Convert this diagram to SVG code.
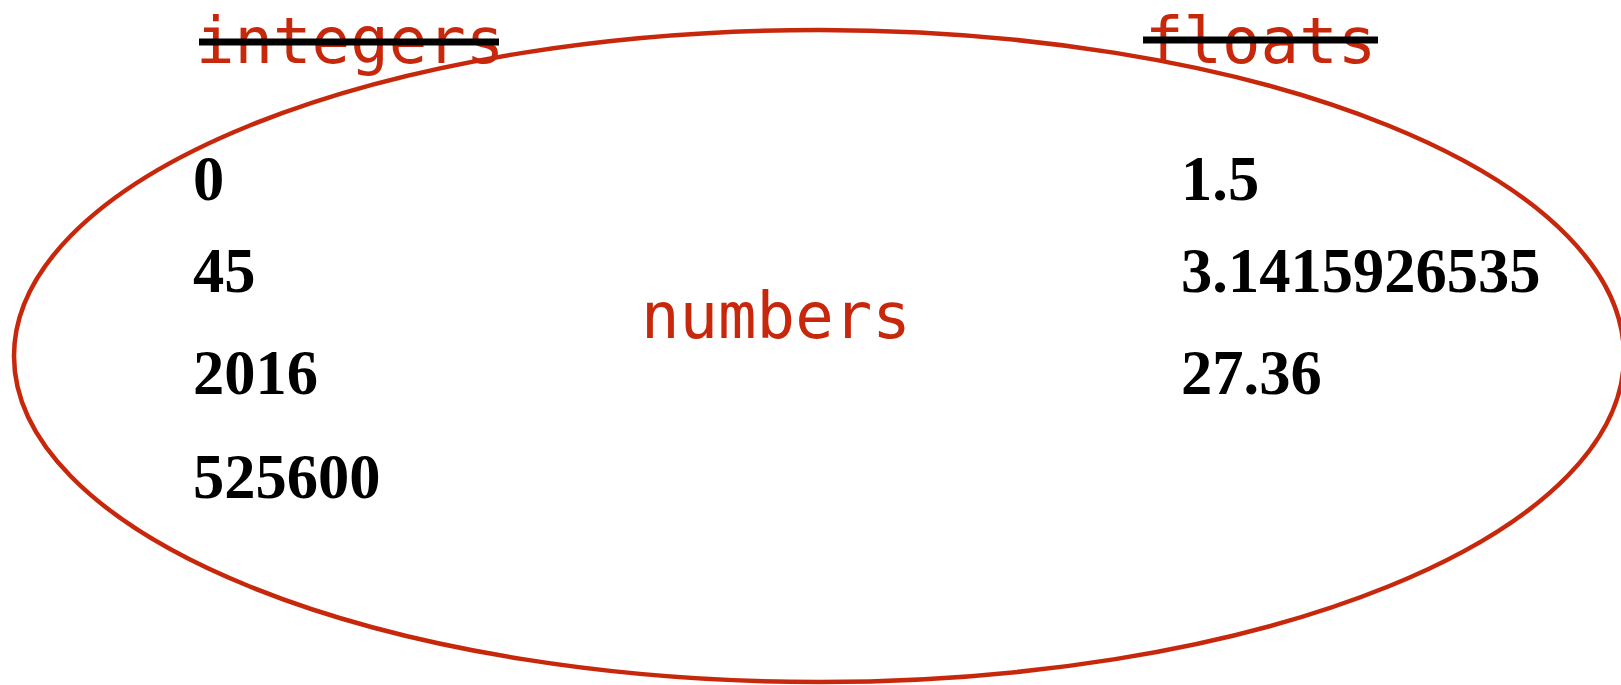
<svg xmlns="http://www.w3.org/2000/svg" width="1621" height="685" viewBox="0 0 1621 685">
<style>
.lbl{font-family:"DejaVu Sans Mono","Liberation Mono",monospace;font-size:64px;fill:#c7280b}
.num{font-family:"Liberation Serif","DejaVu Serif",serif;font-weight:bold;font-size:62.5px;fill:#000}
.strike{stroke:#000;stroke-width:7}
</style>
<rect width="1621" height="685" fill="#fff"/>
<g id="numbers">
<ellipse cx="819" cy="356" rx="805" ry="326" fill="none" stroke="#c7280b" stroke-width="4.5"/>
<text class="lbl" x="641" y="338">numbers</text>
</g>
<g id="integers">
<text class="lbl" x="196" y="63">integers</text>
<line class="strike" x1="199" y1="42" x2="499" y2="42"/>
</g>
<g id="floats">
<text class="lbl" x="1145" y="63">floats</text>
<line class="strike" x1="1143" y1="40" x2="1378" y2="40"/>
</g>
<g id="integer-values">
<text class="num" x="193" y="200">0</text>
<text class="num" x="193" y="292">45</text>
<text class="num" x="193" y="394">2016</text>
<text class="num" x="193" y="498">525600</text>
</g>
<g id="float-values">
<text class="num" x="1181" y="200">1.5</text>
<text class="num" x="1181" y="292">3.1415926535</text>
<text class="num" x="1181" y="394">27.36</text>
</g>
<g id="connectors"></g>
</svg>
